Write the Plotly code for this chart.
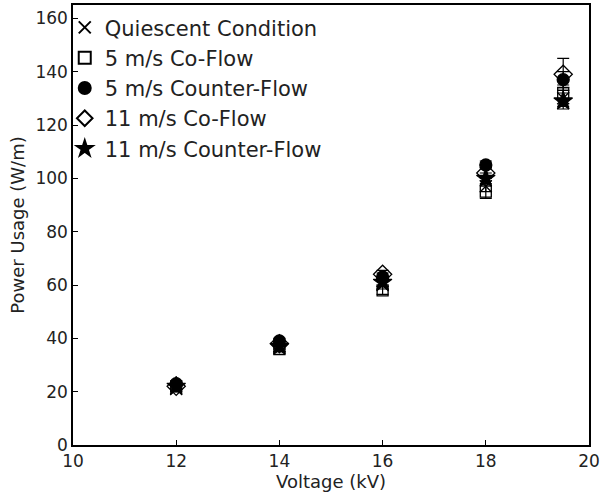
import plotly.graph_objects as go

voltage = [12, 14, 16, 18, 19.5]
quiescent = [21, 37, 60, 97, 130]
quiescent_err = [1, 1, 1.5, 2, 3]
coflow5 = [22, 36, 58, 95, 132]
coflow5_err = [1, 1, 1.5, 2.5, 3]
counter5 = [23, 39, 63, 105, 137]
counter5_err = [1, 1, 1.5, 1.5, 3]
coflow11 = [22, 38, 64, 102, 139]
coflow11_err = [1, 1, 1.5, 2, 6]
counter11 = [22, 37, 61, 100, 129]
counter11_err = [1, 1, 1.5, 2, 3]

series = [
    ("Quiescent Condition", quiescent, quiescent_err, "x-thin-open", 12),
    ("5 m/s Co-Flow", coflow5, coflow5_err, "square-open", 11),
    ("5 m/s Counter-Flow", counter5, counter5_err, "circle", 12),
    ("11 m/s Co-Flow", coflow11, coflow11_err, "diamond-open", 14),
    ("11 m/s Counter-Flow", counter11, counter11_err, "star", 14),
]

fig = go.Figure()
for name, vals, errs, sym, sz in series:
    fig.add_trace(go.Scatter(
        x=voltage, y=vals, mode="markers", name=name,
        marker=dict(symbol=sym, size=sz, color="black",
                    line=dict(color="black", width=1.3)),
        error_y=dict(type="data", array=errs, visible=True,
                     color="black", thickness=1.2, width=6),
    ))

font_tick = dict(family="DejaVu Sans", size=17, color="#222")
font_title = dict(family="DejaVu Sans", size=18, color="#222")
axis_common = dict(
    showgrid=False, zeroline=False, showline=True, linecolor="black",
    linewidth=1.5, mirror=True, ticks="inside", ticklen=5, tickwidth=1.2,
    tickcolor="black", tickfont=font_tick, automargin=False,
)
fig.update_xaxes(range=[10, 20], dtick=2,
                 title=dict(text="Voltage (kV)", font=font_title, standoff=0),
                 **axis_common)
fig.update_yaxes(range=[0, 165], dtick=20,
                 title=dict(text="Power Usage (W/m)", font=font_title, standoff=6),
                 **axis_common)

fig.update_layout(
    width=600, height=493,
    margin=dict(l=73, r=11, t=5, b=48),
    plot_bgcolor="white", paper_bgcolor="white",
    font=dict(family="DejaVu Sans", size=17, color="#222"),
    legend=dict(x=-0.016, y=0.995, xanchor="left", yanchor="top",
                bgcolor="rgba(0,0,0,0)",
                font=dict(family="DejaVu Sans", size=21, color="#222"),
                itemsizing="constant", tracegroupgap=0),
)
fig.write_html("out.html", config={"displayModeBar": False},
               post_script="document.body.style.margin='0px';document.body.style.overflow='hidden';")
